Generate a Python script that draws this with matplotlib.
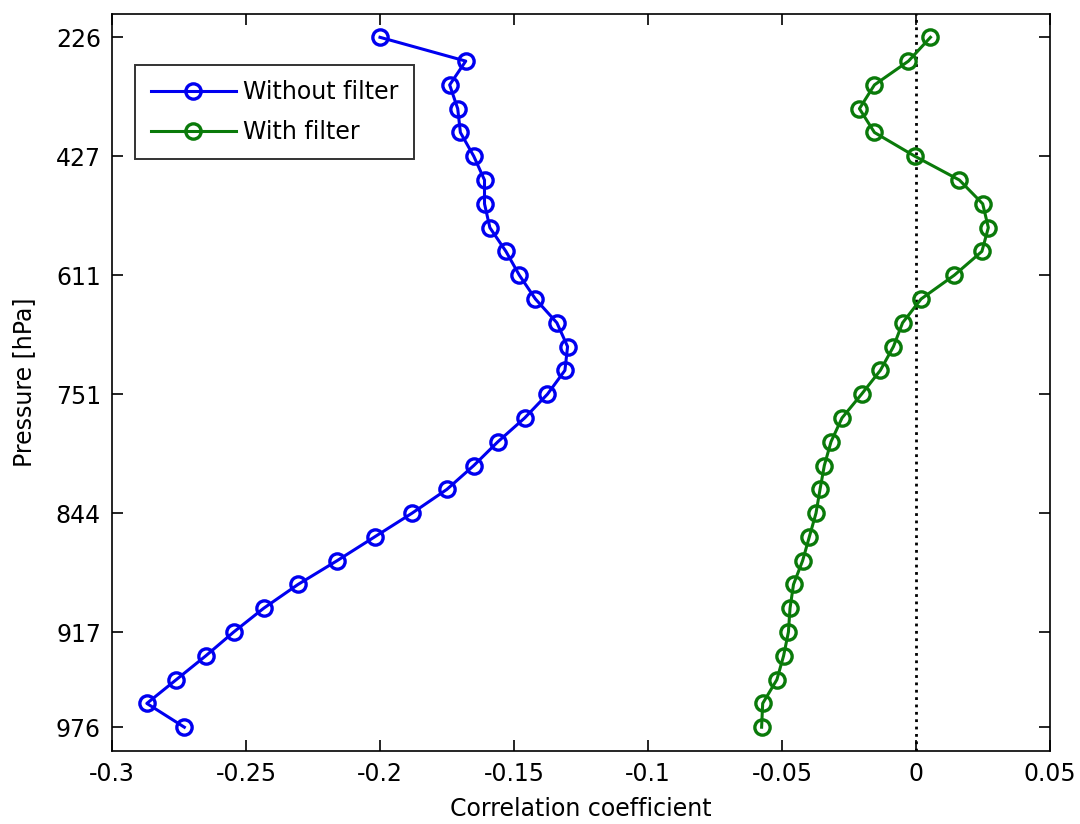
import numpy as np
import matplotlib
matplotlib.use('Agg')
import matplotlib.pyplot as plt

# level index 1..30, labelled with pressure every 5 levels
levels = np.arange(1, 31)
tick_levels = [1, 6, 11, 16, 21, 26, 30]
tick_labels = ['226', '427', '611', '751', '844', '917', '976']

without_filter = [-0.200, -0.168, -0.174, -0.171, -0.170, -0.165, -0.161, -0.161, -0.159, -0.153,
                  -0.148, -0.142, -0.134, -0.130, -0.131, -0.1375, -0.146, -0.156, -0.165, -0.175,
                  -0.188, -0.202, -0.216, -0.2306, -0.2434, -0.2546, -0.265, -0.276, -0.287, -0.273]
with_filter = [0.0054, -0.0028, -0.0155, -0.0211, -0.0155, -0.0004, 0.0162, 0.0249, 0.0270, 0.0246,
               0.0143, 0.0019, -0.0050, -0.0084, -0.0133, -0.0203, -0.0276, -0.0317, -0.0342, -0.0358,
               -0.0373, -0.0398, -0.0423, -0.0457, -0.0470, -0.0476, -0.0494, -0.0519, -0.0572, -0.0576]

plt.rcParams['font.family'] = ['DejaVu Sans']
plt.rcParams['font.size'] = 17

fig = plt.figure(figsize=(10.8, 8.24), dpi=100)
ax = fig.add_axes([0.1037, 0.0886, 0.8685, 0.8950])

ax.plot(without_filter, levels, '-o', color='#0000f0', lw=2.2, ms=11, mew=2.4,
        mfc='none', label='Without filter')
ax.plot(with_filter, levels, '-o', color='#0a7a0a', lw=2.2, ms=11, mew=2.4,
        mfc='none', label='With filter')
ax.axvline(0, color='black', ls=':', lw=2, zorder=0)

ax.set_xlim(-0.3, 0.05)
ax.set_ylim(31, 0)
ax.set_xticks([-0.3, -0.25, -0.2, -0.15, -0.1, -0.05, 0, 0.05])
ax.set_xticklabels(['-0.3', '-0.25', '-0.2', '-0.15', '-0.1', '-0.05', '0', '0.05'])
ax.set_yticks(tick_levels)
ax.set_yticklabels(tick_labels)
ax.tick_params(direction='in', length=8, width=1.2, top=True, right=True, pad=8)
for sp in ax.spines.values():
    sp.set_linewidth(1.2)

ax.set_xlabel('Correlation coefficient', labelpad=8)
ax.set_ylabel('Pressure [hPa]', labelpad=14)

leg = ax.legend(loc='upper left', bbox_to_anchor=(0.025, 0.93), frameon=True, fancybox=False,
                edgecolor='black', handlelength=3.6, handletextpad=0.3, labelspacing=0.65,
                borderpad=0.65, borderaxespad=0)
leg.get_frame().set_linewidth(1.4)

fig.savefig('out.png', dpi=100)
